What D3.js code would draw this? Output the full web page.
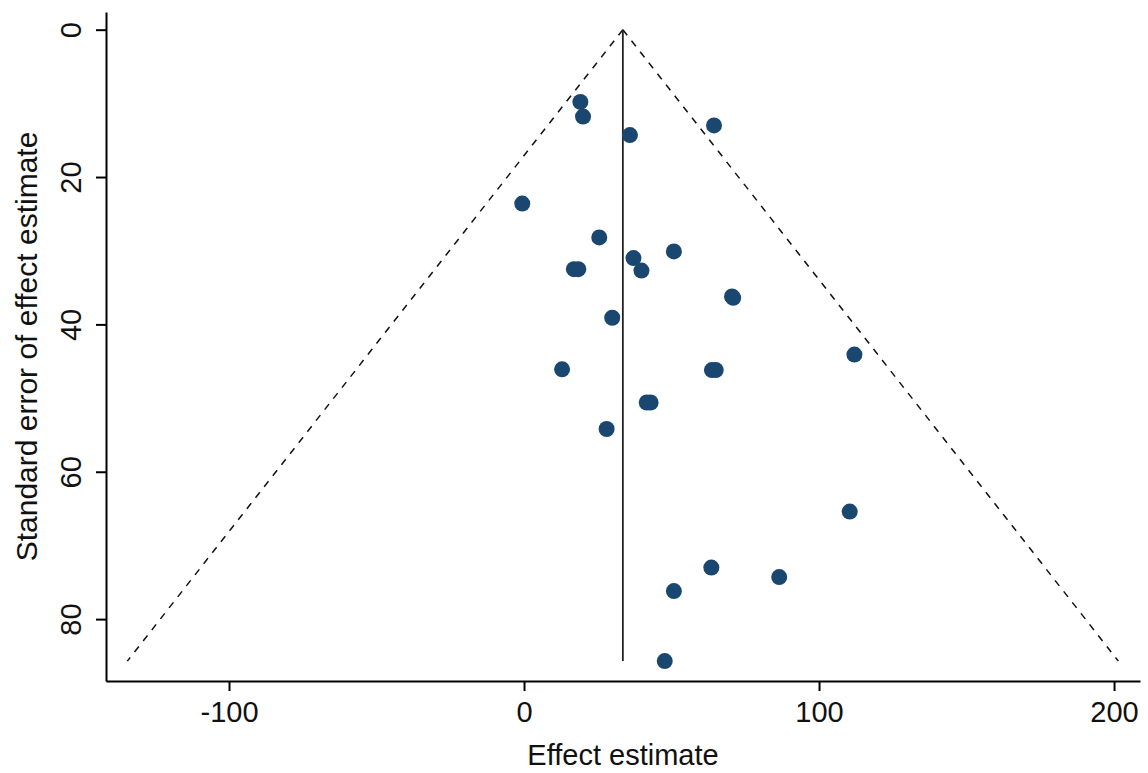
<!DOCTYPE html>
<html>
<head>
<meta charset="utf-8">
<script src="https://cdn.jsdelivr.net/npm/d3@7/dist/d3.min.js"></script>
<style>
    body { margin: 0; background: #fff; }
    text { font-family: "Liberation Sans Narrow", "Arial Narrow", "Liberation Sans", Arial, sans-serif; fill: #111; }
</style>
</head>
<body>
<div id="demo"><svg></svg></div>
<script>
// funnel plot data: effect estimate and its standard error for each study
var effect = [19.1, 20.0, 64.4, 35.9, -0.6, 25.5, 50.8, 37.1, 39.8, 16.9, 18.4, 70.5, 70.9, 29.9,
    112.0, 12.9, 63.7, 65.0, 41.6, 42.9, 28.0, 110.4, 63.5, 86.5, 50.8, 47.7];
var stdError = [9.8, 11.8, 13.0, 14.3, 23.6, 28.2, 30.1, 31.0, 32.7, 32.5, 32.5, 36.2, 36.4, 39.1,
    44.1, 46.1, 46.2, 46.2, 50.6, 50.6, 54.2, 65.4, 73.0, 74.3, 76.2, 85.7];

// pooled (fixed effect) estimate, the apex of the funnel
var pooledEffect = 33.5;

var xTicks = [-100, 0, 100, 200];
var yTicks = [0, 20, 40, 60, 80];

var xTitle = "Effect estimate";
var yTitle = "Standard error of effect estimate";

var width = 1148, height = 773;
var margin = {top: 12, right: 8, bottom: 92, left: 106};

var svg = d3.select("#demo").select("svg")
    .attr("width", width)
    .attr("height", height);

var xScale = d3.scaleLinear().domain([-141.7, 208.8]).range([margin.left, width - margin.right]);
var yScale = d3.scaleLinear().domain([-2.4, 88.4]).range([margin.top, height - margin.bottom]);

var maxSe = d3.max(stdError);

// funnel: pooled +/- 1.96 * se
var funnelLeft = [[pooledEffect, 0], [pooledEffect - 1.96 * maxSe, maxSe]];
var funnelRight = [[pooledEffect, 0], [pooledEffect + 1.96 * maxSe, maxSe]];
var line = d3.line()
    .x(function (d) { return xScale(d[0]); })
    .y(function (d) { return yScale(d[1]); });

var funnel = svg.append("g").attr("class", "funnel");
[funnelLeft, funnelRight].forEach(function (f) {
    funnel.append("path")
        .attr("d", line(f))
        .attr("fill", "none")
        .attr("stroke", "#111")
        .attr("stroke-width", 1.5)
        .attr("stroke-dasharray", "7,7");
});

// vertical line at pooled estimate
funnel.append("path")
    .attr("d", line([[pooledEffect, 0], [pooledEffect, maxSe]]))
    .attr("stroke", "#222")
    .attr("stroke-width", 1.8);

// points
svg.append("g")
    .attr("class", "points")
    .selectAll("circle")
    .data(effect)
    .enter()
    .append("circle")
    .attr("cx", function (d) { return xScale(d); })
    .attr("cy", function (d, i) { return yScale(stdError[i]); })
    .attr("r", 8)
    .style("fill", "#1a476f");

// axes, plain hyphen for negative numbers
var plain = function (d) { return String(d); };

var xAxisG = svg.append("g")
    .attr("class", "xAxisG")
    .attr("transform", "translate(0," + (height - margin.bottom) + ")")
    .call(d3.axisBottom(xScale).tickValues(xTicks).tickFormat(plain)
        .tickSize(10).tickSizeOuter(0).tickPadding(10));

var yAxisG = svg.append("g")
    .attr("class", "yAxisG")
    .attr("transform", "translate(" + margin.left + ",0)")
    .call(d3.axisLeft(yScale).tickValues(yTicks).tickFormat(plain)
        .tickSize(10).tickSizeOuter(0));

svg.selectAll(".domain").attr("stroke", "#000").attr("stroke-width", 2);
svg.selectAll(".tick line").attr("stroke", "#000").attr("stroke-width", 2);

xAxisG.selectAll("text")
    .style("font-size", "29px")
    .attr("fill", "#111");

yAxisG.selectAll("text")
    .style("font-size", "29px")
    .attr("fill", "#111")
    .attr("text-anchor", "middle")
    .attr("dy", 0)
    .attr("transform", "translate(-25,0) rotate(-90)")
    .attr("x", 0)
    .attr("y", 0);

// axis titles
svg.append("text")
    .attr("x", (margin.left + width - margin.right) / 2)
    .attr("y", 765)
    .attr("text-anchor", "middle")
    .style("font-size", "29px")
    .text(xTitle);

svg.append("text")
    .attr("transform", "translate(37," + ((margin.top + height - margin.bottom) / 2) + ") rotate(-90)")
    .attr("text-anchor", "middle")
    .style("font-size", "30px")
    .text(yTitle);
</script>
</body>
</html>
